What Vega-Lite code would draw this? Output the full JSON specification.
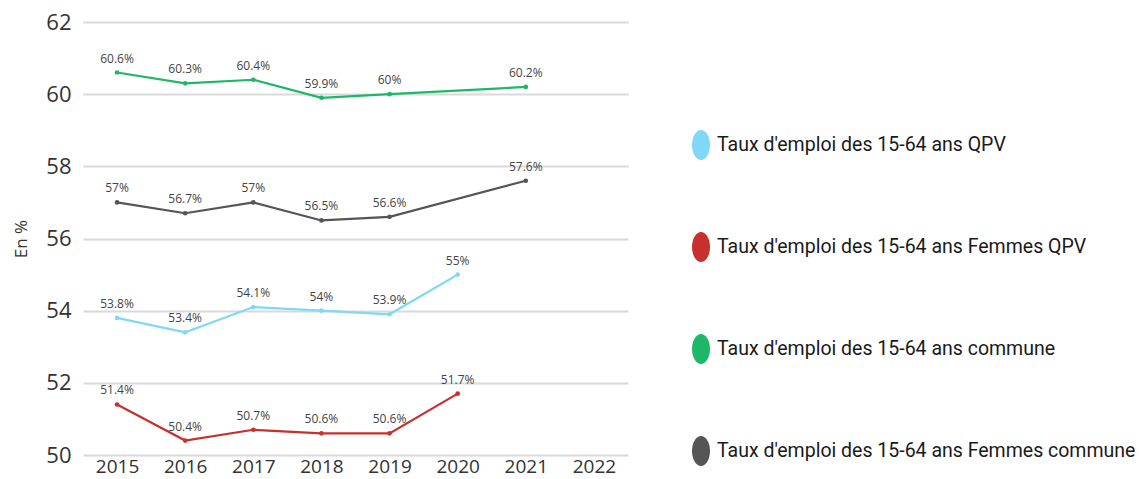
{
  "$schema": "https://vega.github.io/schema/vega-lite/v6.json",
  "autosize": "none",
  "width": 545,
  "height": 433,
  "padding": {"left": 83, "top": 22, "right": 511, "bottom": 24},
  "background": "white",
  "config": {
    "font": "Open Sans",
    "view": {"stroke": null}
  },
  "data": {
    "values": [
      {"annee": "2015", "serie": "Taux d'emploi des 15-64 ans QPV", "taux": 53.8, "etiquette": "53.8%"},
      {"annee": "2016", "serie": "Taux d'emploi des 15-64 ans QPV", "taux": 53.4, "etiquette": "53.4%"},
      {"annee": "2017", "serie": "Taux d'emploi des 15-64 ans QPV", "taux": 54.1, "etiquette": "54.1%"},
      {"annee": "2018", "serie": "Taux d'emploi des 15-64 ans QPV", "taux": 54, "etiquette": "54%"},
      {"annee": "2019", "serie": "Taux d'emploi des 15-64 ans QPV", "taux": 53.9, "etiquette": "53.9%"},
      {"annee": "2020", "serie": "Taux d'emploi des 15-64 ans QPV", "taux": 55, "etiquette": "55%"},
      {"annee": "2015", "serie": "Taux d'emploi des 15-64 ans Femmes QPV", "taux": 51.4, "etiquette": "51.4%"},
      {"annee": "2016", "serie": "Taux d'emploi des 15-64 ans Femmes QPV", "taux": 50.4, "etiquette": "50.4%"},
      {"annee": "2017", "serie": "Taux d'emploi des 15-64 ans Femmes QPV", "taux": 50.7, "etiquette": "50.7%"},
      {"annee": "2018", "serie": "Taux d'emploi des 15-64 ans Femmes QPV", "taux": 50.6, "etiquette": "50.6%"},
      {"annee": "2019", "serie": "Taux d'emploi des 15-64 ans Femmes QPV", "taux": 50.6, "etiquette": "50.6%"},
      {"annee": "2020", "serie": "Taux d'emploi des 15-64 ans Femmes QPV", "taux": 51.7, "etiquette": "51.7%"},
      {"annee": "2015", "serie": "Taux d'emploi des 15-64 ans commune", "taux": 60.6, "etiquette": "60.6%"},
      {"annee": "2016", "serie": "Taux d'emploi des 15-64 ans commune", "taux": 60.3, "etiquette": "60.3%"},
      {"annee": "2017", "serie": "Taux d'emploi des 15-64 ans commune", "taux": 60.4, "etiquette": "60.4%"},
      {"annee": "2018", "serie": "Taux d'emploi des 15-64 ans commune", "taux": 59.9, "etiquette": "59.9%"},
      {"annee": "2019", "serie": "Taux d'emploi des 15-64 ans commune", "taux": 60, "etiquette": "60%"},
      {"annee": "2021", "serie": "Taux d'emploi des 15-64 ans commune", "taux": 60.2, "etiquette": "60.2%"},
      {"annee": "2015", "serie": "Taux d'emploi des 15-64 ans Femmes commune", "taux": 57, "etiquette": "57%"},
      {"annee": "2016", "serie": "Taux d'emploi des 15-64 ans Femmes commune", "taux": 56.7, "etiquette": "56.7%"},
      {"annee": "2017", "serie": "Taux d'emploi des 15-64 ans Femmes commune", "taux": 57, "etiquette": "57%"},
      {"annee": "2018", "serie": "Taux d'emploi des 15-64 ans Femmes commune", "taux": 56.5, "etiquette": "56.5%"},
      {"annee": "2019", "serie": "Taux d'emploi des 15-64 ans Femmes commune", "taux": 56.6, "etiquette": "56.6%"},
      {"annee": "2021", "serie": "Taux d'emploi des 15-64 ans Femmes commune", "taux": 57.6, "etiquette": "57.6%"}
    ]
  },
  "encoding": {
    "x": {
      "field": "annee",
      "type": "ordinal",
      "scale": {"type": "point", "domain": ["2015", "2016", "2017", "2018", "2019", "2020", "2021", "2022"], "padding": 0.5},
      "axis": {
        "title": null,
        "labelAngle": 0,
        "labelFontSize": 19,
        "labelColor": "#333333",
        "labelPadding": 2,
        "domain": false,
        "ticks": false,
        "grid": false
      }
    },
    "y": {
      "field": "taux",
      "type": "quantitative",
      "scale": {"domain": [50, 62], "nice": false, "zero": false},
      "axis": {
        "title": "En %",
        "titleFontSize": 17,
        "titleFontWeight": "normal",
        "titleColor": "#333333",
        "titlePadding": 15,
        "values": [50, 52, 54, 56, 58, 60, 62],
        "labelFontSize": 22,
        "labelColor": "#333333",
        "labelPadding": 12,
        "domain": false,
        "ticks": false,
        "grid": true,
        "gridColor": "#d9d9d9",
        "gridWidth": 2
      }
    },
    "color": {
      "field": "serie",
      "type": "nominal",
      "scale": {
        "domain": [
          "Taux d'emploi des 15-64 ans QPV",
          "Taux d'emploi des 15-64 ans Femmes QPV",
          "Taux d'emploi des 15-64 ans commune",
          "Taux d'emploi des 15-64 ans Femmes commune"
        ],
        "range": ["#7fd8f6", "#c8302e", "#1db867", "#555555"]
      },
      "legend": {
        "title": null,
        "orient": "none",
        "legendX": 603,
        "legendY": 108,
        "symbolType": "M-0.6,0A0.6,1 0 1,0 0.6,0A0.6,1 0 1,0 -0.6,0Z",
        "symbolSize": 900,
        "symbolStrokeWidth": 0,
        "symbolOpacity": 1,
        "labelFont": "Roboto",
        "labelFontSize": 19.5,
        "labelColor": "#1a1a1a",
        "labelLimit": 520,
        "labelOffset": 1,
        "rowPadding": 72
      }
    }
  },
  "layer": [
    {"mark": {"type": "line", "strokeWidth": 2.2}},
    {"mark": {"type": "point", "filled": true, "size": 22, "opacity": 1}},
    {
      "mark": {"type": "text", "dy": -14, "fontSize": 12, "baseline": "middle"},
      "encoding": {
        "text": {"field": "etiquette", "type": "nominal"},
        "color": {"value": "#444444"}
      }
    }
  ]
}
